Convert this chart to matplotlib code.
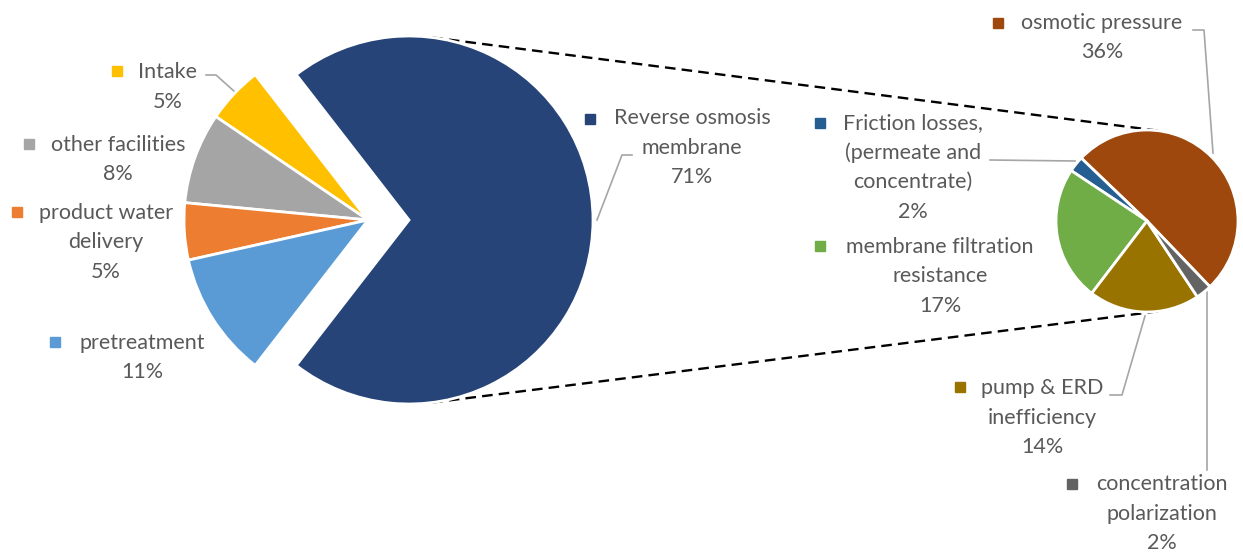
"""
Energy breakdown of a desalination plant: pie-of-pie chart.

Left pie  : share of each plant section.
Right pie : split of the reverse osmosis membrane share.
"""

import numpy as np
import matplotlib
matplotlib.use('Agg')
import matplotlib.pyplot as plt

plt.rcParams['font.family'] = ['Lato', 'DejaVu Sans']

# 전체 공정 비율 (%)
main_labels = ["Reverse osmosis\nmembrane", "Intake", "other facilities",
               "product water\ndelivery", "pretreatment"]
main_values = [71, 5, 8, 5, 11]
main_colors = ['#264478', '#FFC000', '#A5A5A5', '#ED7D31', '#5B9BD5']

# 역삼투막 세부 비율 (%)
sub_labels = ["osmotic pressure", "Friction losses,\n(permeate and\nconcentrate)",
              "membrane filtration\nresistance", "pump & ERD\ninefficiency",
              "concentration\npolarization"]
sub_values = [36, 2, 17, 14, 2]
sub_colors = ['#9E480E', '#255E91', '#70AD47', '#997300', '#636363']

W, H = 1243, 552
TEXT_COLOR = '#595959'
LEADER_COLOR = '#A6A6A6'
LINE_STEP = 29.5


def py(y):
    """pixel row (top-down) -> axes y (bottom-up)"""
    return H - y


fig = plt.figure(figsize=(W / 100, H / 100), dpi=100)
ax = fig.add_axes([0, 0, 1, 1])

# 왼쪽 파이 (explode 값은 데이터 단위)
main_center = (368, py(220))
main_radius = 184
main_explode = [41, 0, 0, 0, 0]
main_start = -360 * main_values[0] / sum(main_values) / 2
ax.pie(main_values, colors=main_colors, startangle=main_start,
       center=main_center, radius=main_radius, explode=main_explode,
       wedgeprops=dict(edgecolor='white', linewidth=2))

# 오른쪽 파이
sub_center = (1147, py(221))
sub_radius = 91
sub_start = 45 - 360 * sub_values[0] / sum(sub_values) / 2
ax.pie(sub_values, colors=sub_colors, startangle=sub_start,
       center=sub_center, radius=sub_radius,
       wedgeprops=dict(edgecolor='white', linewidth=2))

# 두 파이를 잇는 점선 (외접선)
big_c = np.array([main_center[0] + main_explode[0], main_center[1]])
small_c = np.array(sub_center)
d = np.linalg.norm(small_c - big_c)
phi = np.arcsin((main_radius - sub_radius) / d)
for sgn in (1, -1):
    n = np.array([np.sin(phi), sgn * np.cos(phi)])
    p1 = big_c + main_radius * n
    p2 = small_c + sub_radius * n
    ax.plot([p1[0], p2[0]], [p1[1], p2[1]], color='black', lw=1.7,
            linestyle=(0, (4.5, 2.6)), zorder=0)

# 레이블 위치 (텍스트 중심 x, 첫 줄 y), 범례 키 위치
main_text_pos = [(692, 118), (168, 72), (118, 145), (106, 213), (142, 343)]
main_key_pos = [(590, 119), (117, 71), (29, 144), (17, 212), (55, 342)]
sub_text_pos = [(1102, 23), (913, 123), (940, 247), (1042, 388), (1162, 484)]
sub_key_pos = [(998, 23), (820, 123), (820, 246), (960, 387), (1072, 484)]


def draw_label(name, value, color, text_pos, key_pos):
    lines = name.split("\n") + [f"{value}%"]
    x, y0 = text_pos
    for i, line in enumerate(lines):
        ax.text(x, py(y0 + i * LINE_STEP), line, ha='center', va='center',
                fontsize=15.5, color=TEXT_COLOR)
    ax.plot([key_pos[0]], [py(key_pos[1])], marker='s', ms=6.5,
            color=color, linestyle='none')


for name, val, col, tp, kp in zip(main_labels, main_values, main_colors,
                                  main_text_pos, main_key_pos):
    draw_label(name, val, col, tp, kp)

for name, val, col, tp, kp in zip(sub_labels, sub_values, sub_colors,
                                  sub_text_pos, sub_key_pos):
    draw_label(name, val, col, tp, kp)

# 지시선
leaders = [
    [(632, 155), (622, 155), (597, 220)],          # Reverse osmosis
    [(206, 75), (216, 75), (235, 92)],             # Intake
    [(1193, 30), (1204, 30), (1213, 153)],         # osmotic pressure
    [(990, 160), (1075, 161)],                     # Friction losses
    [(1110, 395), (1122, 395), (1145, 316)],       # pump & ERD
    [(1207, 470), (1207, 292)],                    # concentration polarization
]
for pts in leaders:
    xs = [p[0] for p in pts]
    ys = [py(p[1]) for p in pts]
    ax.plot(xs, ys, color=LEADER_COLOR, lw=1.2, zorder=0.5)

ax.set_xlim(0, W)
ax.set_ylim(0, H)
ax.set_aspect('equal')
ax.axis('off')

fig.savefig('out.png', dpi=100, facecolor='white')
